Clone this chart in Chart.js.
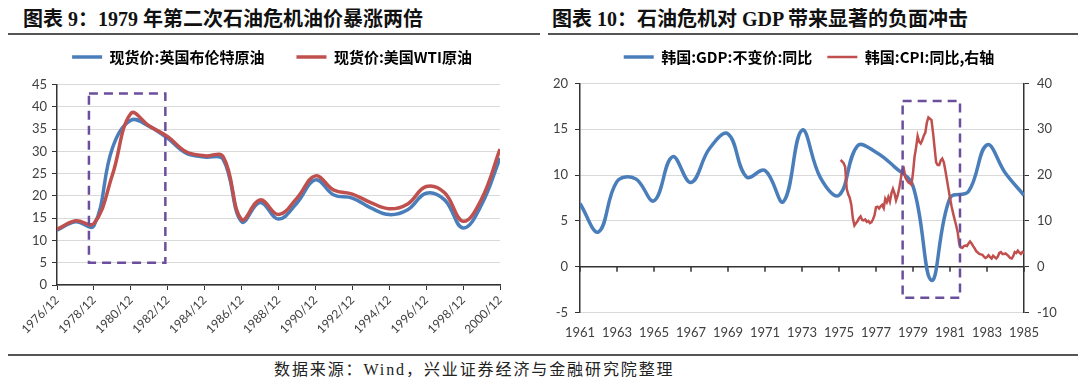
<!DOCTYPE html>
<html>
<head>
<meta charset="utf-8">
<script src="https://cdn.jsdelivr.net/npm/chart.js@4.4.1/dist/chart.umd.min.js"></script>
<style>
  body { margin: 0; background: #fff; width: 1080px; height: 377px; position: relative; overflow: hidden;
         font-family: "Liberation Serif", "Noto Sans CJK SC", serif; }
  .title { position: absolute; top: 7px; font-size: 20px; line-height: 24px; font-weight: bold; color: #111; white-space: nowrap; }
  .rule { position: absolute; height: 2px; background: #555; }
  canvas { position: absolute; top: 40px; }
  .source { position: absolute; left: 274px; top: 360px; font-size: 16px; line-height: 20px; letter-spacing: 1.9px; color: #222; white-space: nowrap; }
</style>
</head>
<body>
<div class="title" style="left:23px">图表 9：1979 年第二次石油危机油价暴涨两倍</div>
<div class="rule" style="left:8px;top:33px;width:532px"></div>
<div class="title" style="left:552px">图表 10：石油危机对 GDP 带来显著的负面冲击</div>
<div class="rule" style="left:548px;top:33px;width:530px"></div>
<canvas id="oilChart" width="540" height="310" style="left:0"></canvas>
<canvas id="gdpChart" width="540" height="310" style="left:540px"></canvas>
<div class="rule" style="left:8px;top:354px;width:1070px"></div>
<div class="source">数据来源：Wind，兴业证券经济与金融研究院整理</div>

<script>
// chart 9: annual spot prices, USD/bbl
const oilYears = [1976, 1977, 1978, 1979, 1980, 1981, 1982, 1983, 1984, 1985, 1986, 1987, 1988,
  1989, 1990, 1991, 1992, 1993, 1994, 1995, 1996, 1997, 1998, 1999, 2000];
const brent = [12.3, 14.2, 13.3, 30.7, 37.0, 35.6, 32.9, 29.6, 28.7, 28.2, 14.2, 18.5, 14.8,
  18.4, 23.6, 20.2, 19.5, 17.3, 15.8, 16.9, 20.6, 19.1, 12.8, 18.0, 28.5];
const wti = [12.5, 14.4, 13.8, 24.7, 38.5, 35.7, 33.3, 29.9, 29.0, 28.8, 14.7, 19.1, 15.8,
  19.5, 24.5, 21.3, 20.4, 18.5, 17.1, 18.2, 22.1, 20.7, 14.3, 19.3, 30.5];
const oilBox = { from: 1977.73, to: 1981.87, low: 5, high: 43 };

// chart 10: Korea GDP (annual) and CPI (monthly, from Feb 1975), % yoy
const gdpYears = [1961, 1962, 1963, 1964, 1965, 1966, 1967, 1968, 1969, 1970, 1971, 1972, 1973,
  1974, 1975, 1976, 1977, 1978, 1979, 1980, 1981, 1982, 1983, 1984, 1985];
const gdp = [6.9, 3.8, 9.3, 9.6, 7.2, 12.0, 9.2, 12.9, 14.5, 9.8, 10.5, 7.1, 14.9,
  9.7, 7.8, 13.2, 12.5, 10.9, 8.8, -1.5, 7.5, 8.2, 13.3, 10.2, 7.8];
const cpiStart = 1975;
const cpi = [
  23.3, 23.0, 22.6, 21.8, 17.0, 15.8, 15.0, 13.5, 10.5, 9.0,
  9.5, 9.9, 10.6, 11.0, 10.2, 10.1, 10.3, 9.8, 10.0, 9.5,
  9.7, 10.3, 11.2, 13.0, 13.1, 12.7, 13.2, 13.5, 12.8, 14.8,
  14.1, 15.2, 14.2, 16.0, 17.0, 16.0, 14.5, 15.5, 17.0, 19.0,
  21.2, 21.5, 19.5, 18.9, 18.4, 18.2, 17.9, 20.5, 24.0, 26.0,
  28.5, 27.3, 26.9, 27.6, 28.6, 29.3, 31.5, 32.6, 32.3, 32.0,
  29.2, 26.0, 22.8, 22.2, 22.2, 23.2, 23.6, 22.8, 21.0, 19.0,
  17.0, 15.0, 13.2, 11.7, 10.3, 9.0, 7.5, 5.0, 4.2, 4.1,
  4.5, 4.6, 4.5, 5.1, 5.5, 5.1, 4.5, 4.0, 3.4, 3.1,
  2.8, 2.7, 2.6, 2.2, 1.9, 2.1, 2.5, 2.1, 1.8, 2.4,
  2.1, 1.8, 2.2, 3.0, 3.2, 2.8, 2.8, 2.9, 2.6, 2.3,
  1.9, 1.8, 2.3, 3.2, 3.0, 3.5, 3.1, 2.8, 3.2, 2.9
];
const gdpBox = { from: 1978.44, to: 1981.54, low: -3.4, high: 18.1 };

const BLUE = "#4a7ebb";
const RED = "#c0504d";
const PURPLE = "#6c4f9c";
const GRID = "#d9d9d9";
const AXIS = "#333";
const TICK = "#404040";

Chart.defaults.font.family = "Lato";
Chart.defaults.animation = false;

const legendFont = { family: '"Noto Sans CJK SC"', size: 15, weight: "bold" };

// purple dashed frame, drawn through the chart's own scales
const dashBox = {
  id: "dashBox",
  afterDatasetsDraw(chart, args, opts) {
    const b = opts.box;
    if (!b) return;
    const xs = chart.scales.x;
    const ys = chart.scales[opts.axis || "y"];
    const x0 = xs.getPixelForValue(b.from), x1 = xs.getPixelForValue(b.to);
    const y0 = ys.getPixelForValue(b.high), y1 = ys.getPixelForValue(b.low);
    const ctx = chart.ctx;
    ctx.save();
    ctx.strokeStyle = PURPLE;
    ctx.lineWidth = 2.5;
    ctx.setLineDash([9, 6]);
    ctx.strokeRect(x0, y0, x1 - x0, y1 - y0);
    ctx.restore();
  }
};

// x axis crossing at zero (chart 10)
const zeroAxis = {
  id: "zeroAxis",
  beforeDatasetsDraw(chart) {
    const { ctx, chartArea, scales: { x, y } } = chart;
    const py = y.getPixelForValue(0);
    ctx.save();
    ctx.strokeStyle = AXIS;
    ctx.lineWidth = 1.5;
    ctx.beginPath();
    ctx.moveTo(chartArea.left, py);
    ctx.lineTo(chartArea.right, py);
    x.ticks.forEach(t => {
      const px = x.getPixelForValue(t.value);
      ctx.moveTo(px, py);
      ctx.lineTo(px, py + 5);
    });
    ctx.stroke();
    ctx.restore();
  }
};

// extra room under the legend, and a sideways nudge
const legendTweak = (extra, shift) => ({
  id: "legendTweak",
  beforeInit(chart) {
    const fit = chart.legend.fit;
    chart.legend.fit = function () {
      fit.call(this);
      this.height += extra;
    };
  },
  afterLayout(chart) {
    chart.legend.left += shift;
    chart.legend.right += shift;
  }
});

function legendOpts(gap) {
  return {
    position: "top",
    labels: {
      usePointStyle: true, pointStyle: "line", pointStyleWidth: 30,
      padding: gap, color: "#000", font: legendFont,
      sort: (a, b) => a.datasetIndex - b.datasetIndex
    }
  };
}

new Chart(document.getElementById("oilChart"), {
  type: "line",
  data: {
    datasets: [
      { label: "现货价:英国布伦特原油", data: oilYears.map((yr, i) => ({ x: yr, y: brent[i] })),
        borderColor: BLUE, backgroundColor: BLUE, borderWidth: 3.5, pointRadius: 0, tension: 0.4, order: 1 },
      { label: "现货价:美国WTI原油", data: oilYears.map((yr, i) => ({ x: yr, y: wti[i] })),
        borderColor: RED, backgroundColor: RED, borderWidth: 3.5, pointRadius: 0, tension: 0.4, order: 0 }
    ]
  },
  options: {
    responsive: false,
    layout: { padding: { top: -22.5, right: 40, left: 0, bottom: 0 } },
    plugins: {
      legend: legendOpts(32),
      tooltip: { enabled: false },
      dashBox: { box: oilBox }
    },
    scales: {
      x: {
        type: "linear", min: 1976, max: 2000,
        ticks: { stepSize: 2, maxRotation: 45, minRotation: 45, padding: 3, color: TICK,
                 font: { size: 12 }, callback: v => v + "/12" },
        grid: { drawOnChartArea: false, tickLength: 5, tickColor: AXIS },
        border: { color: AXIS, width: 1.5 },
        afterFit: s => { s.height = 65; }
      },
      y: {
        min: 0, max: 45,
        ticks: { stepSize: 5, padding: 5, color: TICK, font: { size: 13 } },
        grid: { color: GRID, tickColor: AXIS, tickLength: 5 },
        border: { color: AXIS, width: 1.5 },
        afterFit: s => { s.width = 57; }
      }
    }
  },
  plugins: [dashBox, legendTweak(10, 22)]
});

new Chart(document.getElementById("gdpChart"), {
  type: "line",
  data: {
    datasets: [
      { label: "韩国:GDP:不变价:同比", data: gdpYears.map((yr, i) => ({ x: yr, y: gdp[i] })),
        borderColor: BLUE, backgroundColor: BLUE, borderWidth: 3.5, pointRadius: 0, tension: 0.4,
        yAxisID: "y", order: 1 },
      { label: "韩国:CPI:同比,右轴", data: cpi.map((v, i) => ({ x: cpiStart + (i + 1) / 12, y: v })),
        borderColor: RED, backgroundColor: RED, borderWidth: 2.5, pointRadius: 0, tension: 0,
        yAxisID: "y1", order: 0 }
    ]
  },
  options: {
    responsive: false,
    layout: { padding: { top: -5.5, right: 0, left: 0, bottom: 0 } },
    plugins: {
      legend: legendOpts(15),
      tooltip: { enabled: false },
      dashBox: { box: gdpBox, axis: "y" }
    },
    scales: {
      x: {
        type: "linear", min: 1961, max: 1985,
        ticks: { stepSize: 2, padding: 13, color: TICK, font: { size: 13 }, maxRotation: 0,
                 autoSkip: false, callback: v => String(v) },
        grid: { display: false, drawTicks: false },
        border: { display: false },
        afterFit: s => { s.height = 37.5; }
      },
      y: {
        position: "left", min: -5, max: 20,
        ticks: { stepSize: 5, padding: 7, color: TICK, font: { size: 13 } },
        grid: { color: GRID, tickColor: AXIS, tickLength: 5 },
        border: { color: AXIS, width: 1.5 },
        afterFit: s => { s.width = 40; }
      },
      y1: {
        position: "right", min: -10, max: 40,
        ticks: { stepSize: 10, padding: 8, color: TICK, font: { size: 13 } },
        grid: { drawOnChartArea: false, tickColor: AXIS, tickLength: 5 },
        border: { color: AXIS, width: 1.5 },
        afterFit: s => { s.width = 56; }
      }
    }
  },
  plugins: [dashBox, zeroAxis, legendTweak(9, -1)]
});
</script>
</body>
</html>
